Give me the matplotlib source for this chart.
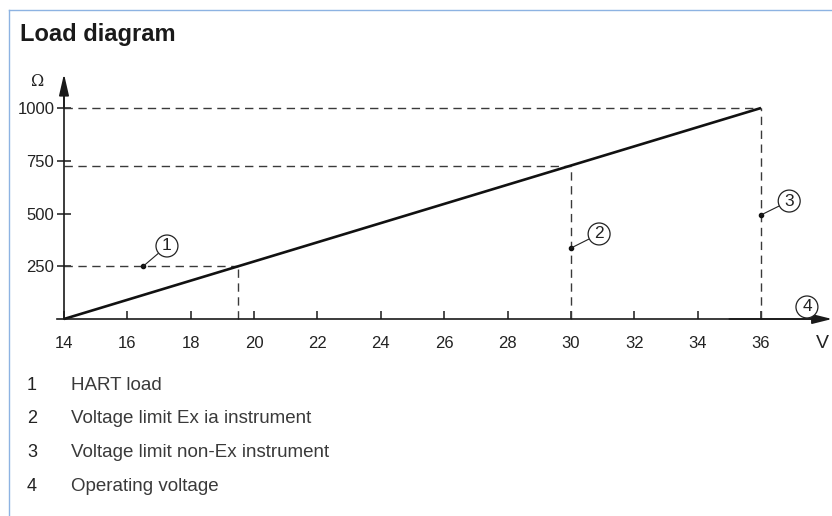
import matplotlib
matplotlib.use("Agg")
import matplotlib.pyplot as plt
from matplotlib.lines import Line2D

plt.rcParams['font.family'] = ['Liberation Sans', 'DejaVu Sans']

# ---- data ----
voltage = [14, 36]          # V
load = [0, 1000]            # Ohm
x_ticks = [14, 16, 18, 20, 22, 24, 26, 28, 30, 32, 34, 36]
y_ticks = [250, 500, 750, 1000]
hart_load = 250
hart_voltage = 19.5
exia_voltage = 30
exia_load = 727
nonex_voltage = 36
nonex_load = 1000
legend_numbers = ["1", "2", "3", "4"]
legend_texts = ["HART load", "Voltage limit Ex ia instrument",
                "Voltage limit non-Ex instrument", "Operating voltage"]

W, H = 832, 516
fig = plt.figure(figsize=(W / 100, H / 100), dpi=100)
ax = fig.add_axes([0, 0, 1, 1])

# pixel mapping: 14V -> 64px, 36V -> 761px ; 0 Ohm -> 319px from top, 1000 -> 108px
sx = (761 - 64) / 22.0
sy = (319 - 108) / 1000.0
ax.set_xlim(14 - 64 / sx, 14 + (W - 64) / sx)
ax.set_ylim(-(H - 319) / sy, 319 / sy)

axis_col = '#1a1a1a'
dash_col = '#3a3a3a'
dash = (0, (6, 4))
txt_col = '#222222'

# spines as axes
for s in ['top', 'right']:
    ax.spines[s].set_visible(False)
ax.spines['left'].set_position(('data', 14))
ax.spines['bottom'].set_position(('data', 0))
ax.spines['left'].set_bounds(0, 1060)
ax.spines['bottom'].set_bounds(14 - 7 / sx, 14 + (W - 64 - 10) / sx)
for s in ['left', 'bottom']:
    ax.spines[s].set_color(axis_col)
    ax.spines[s].set_linewidth(1.2)

ax.set_xticks(x_ticks)
ax.set_xticklabels([str(t) for t in x_ticks])
ax.set_yticks(y_ticks)
ax.set_yticklabels([str(t) for t in y_ticks])
ax.tick_params(axis='x', direction='in', length=6, width=1.1, color=axis_col,
               labelsize=12, labelcolor=txt_col, pad=12)
ax.tick_params(axis='y', direction='inout', length=10, width=1.1, color=axis_col,
               labelsize=12, labelcolor=txt_col, pad=2)

# arrow heads
ax.annotate('', xy=(14, (319 - 74) / sy), xytext=(14, 1000),
            arrowprops=dict(arrowstyle='-|>,head_length=1.3,head_width=0.3',
                            color=axis_col, lw=1.2, shrinkA=0, shrinkB=0))
ax.annotate('', xy=(14 + (W - 64) / sx, 0), xytext=(35, 0),
            arrowprops=dict(arrowstyle='-|>,head_length=1.2,head_width=0.3',
                            color=axis_col, lw=1.2, shrinkA=0, shrinkB=0))

# dashed guide lines
ax.plot([14, hart_voltage], [hart_load, hart_load], color=dash_col, lw=1, ls=dash)
ax.plot([hart_voltage, hart_voltage], [0, hart_load], color=dash_col, lw=1, ls=dash)
ax.plot([14, exia_voltage], [exia_load, exia_load], color=dash_col, lw=1, ls=dash)
ax.plot([exia_voltage, exia_voltage], [0, exia_load], color=dash_col, lw=1, ls=dash)
ax.plot([14, nonex_voltage], [nonex_load, nonex_load], color=dash_col, lw=1, ls=dash)
ax.plot([nonex_voltage, nonex_voltage], [0, nonex_load], color=dash_col, lw=1, ls=dash)

# main load line
ax.plot(voltage, load, color='#111111', lw=1.9, solid_capstyle='butt')

# callouts
circ = dict(boxstyle='circle,pad=0.2', fc='white', ec='#222222', lw=0.9)

def callout(num, dot, txt):
    if dot is not None:
        ax.plot([dot[0]], [dot[1]], 'o', color='#111111', ms=3)
        ax.annotate(num, xy=dot, xytext=txt, ha='center', va='center',
                    fontsize=12.5, color=txt_col, bbox=circ,
                    arrowprops=dict(arrowstyle='-', color='#222222', lw=0.8,
                                    shrinkA=0, shrinkB=0))
    else:
        ax.text(txt[0], txt[1], num, ha='center', va='center', fontsize=12.5,
                color=txt_col, bbox=circ)

callout('1', (16.5, hart_load), (17.25, 346))
callout('2', (exia_voltage, 336), (30.89, 403))
callout('3', (nonex_voltage, 493), (36.89, 559))
callout('4', None, (37.45, 57))

# axis unit labels
ax.text(14 - 26 / sx, (319 - 82) / sy, 'Ω', ha='center', va='center',
        fontsize=11.5, color=txt_col, family=['DejaVu Serif'])
ax.text(14 + (829 - 64) / sx, -25 / sy, 'V', ha='right', va='center',
        fontsize=14, color=txt_col)

# title
fig.text(20 / W, 1 - 34 / H, 'Load diagram', fontsize=17, fontweight='bold',
         color='#1a1a1a', ha='left', va='center')

# legend
for i, (n, t) in enumerate(zip(legend_numbers, legend_texts)):
    yy = 1 - (385 + i * 33.7) / H
    fig.text(32 / W, yy, n, fontsize=13, color=txt_col, ha='center', va='center')
    fig.text(71 / W, yy, t, fontsize=13.5, color='#3a3a3a', ha='left', va='center')

# frame lines (page border)
fig.add_artist(Line2D([9 / W, 9 / W], [0, 1 - 10 / H], transform=fig.transFigure,
                      color='#8db3e2', lw=1))
fig.add_artist(Line2D([9 / W, 1], [1 - 10 / H, 1 - 10 / H], transform=fig.transFigure,
                      color='#8db3e2', lw=1))

fig.savefig('out.png', dpi=100)
